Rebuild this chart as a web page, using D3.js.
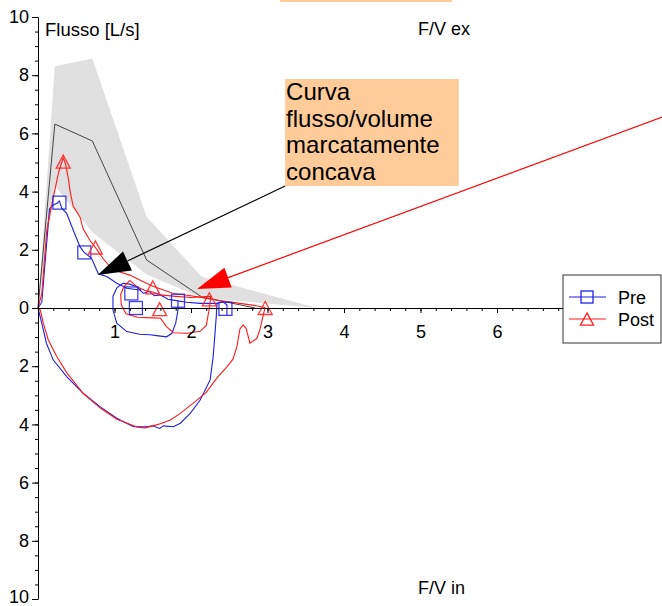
<!DOCTYPE html>
<html>
<head>
<meta charset="utf-8">
<script src="https://cdn.jsdelivr.net/npm/d3@7"></script>
<style>
body { margin: 0; background: #fff; }
svg { display: block; font-family: "Liberation Sans", Arial, sans-serif; }
</style>
</head>
<body>
<svg id="chart" width="662" height="606"></svg>
<script>
// normal range band and predicted curve
var bandVolume = [0, 0.22, 0.71, 1.42, 2.14, 3.65];
var bandUpper = [0, 8.31, 8.57, 3.14, 1.07, 0];
var bandLower = [0, 4.2, 2.6, 1.15, 0.35, 0];
var predVolume = [0, 0.22, 0.71, 1.42, 2.14, 2.84];
var predFlow = [0, 6.32, 5.74, 1.65, 0.38, 0];

// Pre traces [volume, flow]
var preExp = [[0,0],[0.05,0.2],[0.1,1.8],[0.15,3.4],[0.2,3.54],[0.25,3.6],[0.28,3.68],[0.31,3.43],[0.375,3.25],
  [0.46,2.68],[0.55,2.1],[0.6,1.92],[0.7,1.71],[0.79,1.17],[0.9,1.08],[1.03,0.85],[1.16,0.68],[1.33,0.62],
  [1.38,0.5],[1.45,0.58],[1.52,0.42],[1.6,0.45],[1.7,0.3],[1.77,0.27],[1.94,0.2],[2.12,0.16],[2.34,0.16],
  [2.42,0.22],[2.47,0.1],[2.47,-0.24]];
var preLoop = [[1.83,0.25],[1.83,-0.07],[1.8,-0.52],[1.75,-0.87],[1.68,-0.99],[1.55,-0.95],[1.46,-0.92],
  [1.33,-0.9],[1.16,-0.81],[1.03,-0.52],[0.98,-0.07],[0.98,0.4],[1.03,0.69],[1.11,0.85],[1.2,0.82],
  [1.29,0.73],[1.35,0.6]];
var preInsp = [[2.34,0.16],[2.33,-0.3],[2.31,-1.0],[2.29,-1.67],[2.25,-2.47],[2.12,-3.16],[1.99,-3.62],
  [1.86,-3.96],[1.77,-4.08],[1.64,-4.05],[1.59,-4.14],[1.5,-4.05],[1.42,-4.08],[1.25,-4.08],[1.15,-3.95],
  [1.03,-3.79],[0.81,-3.39],[0.59,-2.93],[0.375,-2.36],[0.2,-1.79],[0.11,-1.21],[0.05,-0.53],[0,0]];

// Post traces [volume, flow]
var postExp = [[0,0],[0.05,0.5],[0.115,2.68],[0.2,3.8],[0.27,4.67],[0.31,5.0],[0.33,5.15],[0.36,4.95],
  [0.4,4.4],[0.42,4.0],[0.46,3.5],[0.55,3.12],[0.59,2.72],[0.68,2.32],[0.745,2.1],[0.85,1.7],[0.94,1.42],
  [1.07,1.24],[1.2,1.13],[1.33,0.96],[1.5,0.75],[1.77,0.5],[2.0,0.42],[2.2,0.33],[2.4,0.25],[2.64,0.16],
  [2.85,0.08],[2.97,0.02]];
var postLoop = [[1.2,0.95],[1.12,0.72],[1.08,0.45],[1.09,0.1],[1.15,-0.2],[1.3,-0.32],[1.5,-0.34],
  [1.6,-0.35],[1.68,-0.64],[1.77,-0.85],[1.95,-0.87],[2.12,-0.8],[2.2,-0.6],[2.24,0.0],[2.26,0.4],
  [2.0,0.36],[1.8,0.4],[1.6,0.45],[1.5,0.55],[1.4,0.6],[1.3,0.72],[1.2,0.95]];
var postInsp = [[2.97,0.02],[2.95,-0.18],[2.9,-0.76],[2.86,-1.05],[2.8,-1.15],[2.77,-1.21],[2.75,-1.0],
  [2.72,-0.7],[2.68,-0.58],[2.64,-0.72],[2.6,-1.33],[2.55,-1.75],[2.47,-2.02],[2.34,-2.4],[2.2,-2.9],
  [2.03,-3.27],[1.86,-3.62],[1.73,-3.85],[1.6,-3.98],[1.5,-4.05],[1.4,-4.12],[1.3,-4.1],[1.16,-3.95],
  [1.03,-3.82],[0.81,-3.43],[0.59,-2.93],[0.375,-2.22],[0.245,-1.67],[0.135,-1.1],[0.07,-0.53],
  [0.03,-0.07],[0,0]];

// markers
var preMarkVol = [0.28, 0.605, 1.22, 1.28, 1.83, 2.45];
var preMarkFlow = [3.62, 1.91, 0.5, 0.0, 0.25, -0.03];
var postMarkVol = [0.33, 0.75, 1.50, 1.59, 2.24, 2.97];
var postMarkFlow = [5.03, 2.08, 0.71, -0.04, 0.3, 0.0];

var yTicks = [-10, -8, -6, -4, -2, 0, 2, 4, 6, 8, 10];
var xTicks = [1, 2, 3, 4, 5, 6, 7];
var noteLines = ["Curva", "flusso/volume", "marcatamente", "concava"];
var legendNames = ["Pre", "Post"];

var blue = "#1f1fe6", red = "#ff1a1a";
var svg = d3.select("#chart");
var x = d3.scaleLinear().domain([0, 8]).range([38, 650]);
var y = d3.scaleLinear().domain([-10, 10]).range([599, 17]);

var line = d3.line().x(function(d) { return x(d[0]); }).y(function(d) { return y(d[1]); });

// band
var band = d3.area()
  .x(function(d, i) { return x(bandVolume[i]); })
  .y0(function(d, i) { return y(bandLower[i]); })
  .y1(function(d, i) { return y(bandUpper[i]); });
svg.append("path").datum(bandVolume).attr("d", band).attr("fill", "#e0e0e0");

svg.append("path")
  .datum(predVolume.map(function(v, i) { return [v, predFlow[i]]; }))
  .attr("d", line).attr("fill", "none").attr("stroke", "#444").attr("stroke-width", 1);

// traces
[preExp, preLoop, preInsp].forEach(function(t) {
  svg.append("path").datum(t).attr("d", line).attr("fill", "none").attr("stroke", blue).attr("stroke-width", 1.1);
});
[postExp, postLoop, postInsp].forEach(function(t) {
  svg.append("path").datum(t).attr("d", line).attr("fill", "none").attr("stroke", red).attr("stroke-width", 1.1);
});

function square(g, cx, cy, s) {
  g.append("rect").attr("x", cx - s / 2).attr("y", cy - s / 2).attr("width", s).attr("height", s)
    .attr("fill", "none").attr("stroke", blue).attr("stroke-width", 1.3);
}
function triangle(g, cx, cy, s) {
  var h = s * 0.93;
  g.append("path").attr("d", "M" + cx + "," + (cy - h / 2) + "L" + (cx - s / 2) + "," + (cy + h / 2) +
    "L" + (cx + s / 2) + "," + (cy + h / 2) + "Z")
    .attr("fill", "none").attr("stroke", red).attr("stroke-width", 1.3);
}
var marks = svg.append("g").attr("opacity", 0.85);
preMarkVol.forEach(function(v, i) { square(marks, x(v), y(preMarkFlow[i]), 13); });
postMarkVol.forEach(function(v, i) { triangle(marks, x(v), y(postMarkFlow[i]), 14); });

// axes
var minorY = d3.range(-10, 10.001, 0.5);
svg.append("g").attr("transform", "translate(38,0)")
  .call(d3.axisLeft(y).tickValues(minorY).tickSize(3).tickFormat(""))
  .call(function(g) { g.select(".domain").remove(); });
var ya = svg.append("g").attr("transform", "translate(38,0)")
  .call(d3.axisLeft(y).tickValues(yTicks).tickSize(6).tickSizeOuter(0).tickPadding(3)
    .tickFormat(function(d) { return Math.abs(d); }));
ya.selectAll("text").attr("font-size", 18).attr("font-family", "Liberation Sans, Arial, sans-serif").attr("fill", "#000")
  .attr("dy", function(d) { return d === -10 ? "0.2em" : "0.32em"; });

var minorX = d3.range(0, 8.001, 0.2);
svg.append("g").attr("transform", "translate(0," + y(0) + ")")
  .call(d3.axisBottom(x).tickValues(minorX).tickSize(3).tickFormat(""))
  .call(function(g) { g.select(".domain").remove(); });
var xa = svg.append("g").attr("transform", "translate(0," + y(0) + ")")
  .call(d3.axisBottom(x).tickValues(xTicks).tickSize(5).tickSizeOuter(0).tickPadding(12));
xa.selectAll("text").attr("font-size", 18).attr("font-family", "Liberation Sans, Arial, sans-serif").attr("fill", "#000");
svg.selectAll(".domain, .tick line").attr("stroke", "#000");

// axis titles
svg.append("text").attr("x", 45).attr("y", 36).attr("font-size", 18.5).text("Flusso [L/s]");
svg.append("text").attr("x", 418).attr("y", 35).attr("font-size", 18).text("F/V ex");
svg.append("text").attr("x", 418).attr("y", 594).attr("font-size", 18).text("F/V in");

// annotation
svg.append("rect").attr("x", 280).attr("y", -10).attr("width", 172).attr("height", 12).attr("fill", "#ffcc99");
var box = { x0: 3.23, x1: 5.5, top: 7.87, bottom: 4.19 };
svg.append("rect").attr("x", x(box.x0)).attr("y", y(box.top))
  .attr("width", x(box.x1) - x(box.x0)).attr("height", y(box.bottom) - y(box.top)).attr("fill", "#ffcc99");
noteLines.forEach(function(t, i) {
  svg.append("text").attr("x", x(box.x0) + 1).attr("y", y(box.top) + 21 + i * 26.7)
    .attr("font-size", 24).text(t);
});

function arrow(x1, y1, x2, y2, color) {
  var dx = x2 - x1, dy = y2 - y1, len = Math.sqrt(dx * dx + dy * dy);
  var ux = dx / len, uy = dy / len, hl = 33, hw = 10.5;
  var bx = x2 - ux * hl, by = y2 - uy * hl;
  svg.append("line").attr("x1", x1).attr("y1", y1).attr("x2", bx).attr("y2", by)
    .attr("stroke", color).attr("stroke-width", 1.2);
  svg.append("path").attr("d", "M" + x2 + "," + y2 + "L" + (bx - uy * hw) + "," + (by + ux * hw) +
    "L" + (bx + uy * hw) + "," + (by - ux * hw) + "Z").attr("fill", color);
}
arrow(x(box.x0), y(box.bottom), x(0.78), y(1.13), "#000");
arrow(x(8.16), y(6.56), x(2.08), y(0.65), "#ff0000");

// legend
var lg = svg.append("g").attr("transform", "translate(563,275)");
lg.append("rect").attr("width", 98).attr("height", 68).attr("fill", "#fff").attr("stroke", "#333").attr("stroke-width", 1);
legendNames.forEach(function(n, i) {
  var cy = 22 + i * 22;
  var c = i === 0 ? blue : red;
  lg.append("line").attr("x1", 6).attr("x2", 43).attr("y1", cy).attr("y2", cy).attr("stroke", c).attr("stroke-width", 1.1);
  if (i === 0) square(lg, 24, cy, 12); else triangle(lg, 24, cy, 13);
  lg.append("text").attr("x", 55).attr("y", cy + 7).attr("font-size", 18).text(n);
});
</script>
</body>
</html>
